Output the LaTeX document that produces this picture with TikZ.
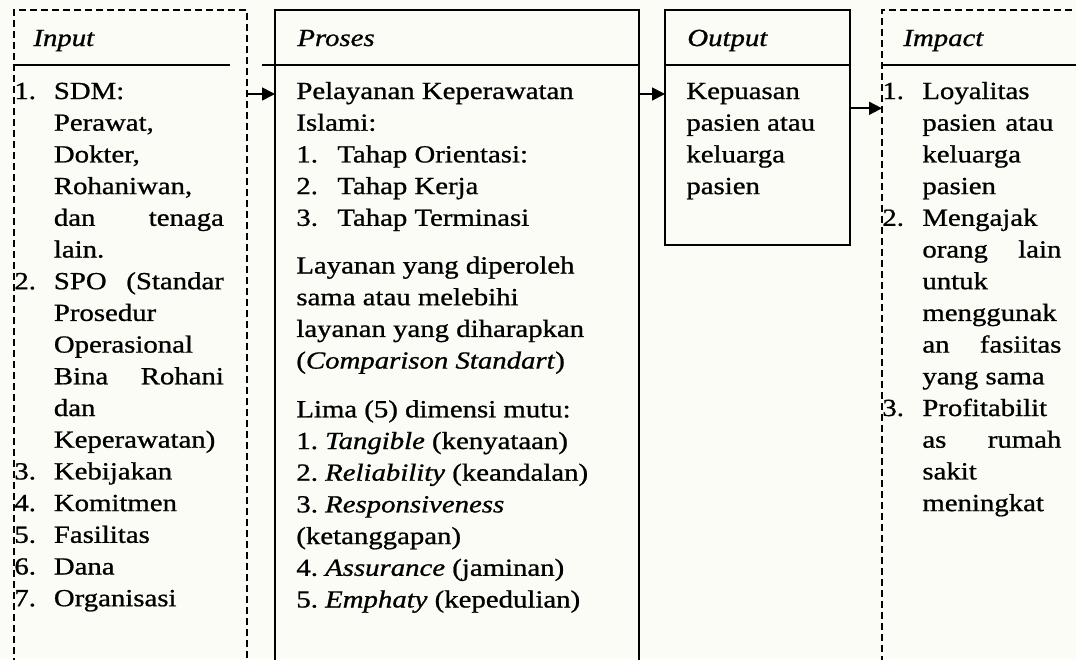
\documentclass[tikz,border=0pt]{standalone}
\usepackage{fontspec}
\usepackage{graphicx}
\setmainfont{Liberation Serif}[FakeBold=0.8]
\usetikzlibrary{arrows.meta}
\definecolor{paper}{RGB}{252,252,247}
\newcommand\bodyfont{\fontsize{12.3}{15.85}\selectfont\frenchspacing}
\newcommand\sx[1]{\scalebox{1.17}[1]{#1}}
\newcommand\col[2]{\sx{\parbox[t]{#1}{\raggedright\bodyfont #2}}}
% widths measured on the page, divided by the horizontal scale 1.17
\newlength\nwA \setlength\nwA{\dimexpr 1975pt/117\relax}
\newlength\nwB \setlength\nwB{\dimexpr 2050pt/117\relax}
\newlength\nwC \setlength\nwC{\dimexpr 2000pt/117\relax}
\newlength\jwA \setlength\jwA{\dimexpr 8500pt/117\relax}
\newlength\jwB \setlength\jwB{\dimexpr 6950pt/117\relax}
\newlength\jwC \setlength\jwC{\dimexpr 6550pt/117\relax}
\newcommand\nm[2][\nwA]{\makebox[#1][l]{#2}}
\newcommand\ind[1][\nwA]{\hspace*{#1}}
\newcommand\jl[2]{\hbox to #1{#2}}
\begin{document}
\begin{tikzpicture}[x=0.5pt,y=-0.5pt,
  box/.style={draw, line width=0.85pt, inner sep=0pt, outer sep=0pt, anchor=north west},
  dbox/.style={box, dash pattern=on 3.5pt off 2pt},
  hd/.style={font=\bodyfont\itshape, anchor=base west, inner sep=0pt},
  body/.style={anchor=base west, inner sep=0pt},
  rule/.style={line width=0.85pt},
  arr/.style={line width=0.85pt, -{Triangle[length=6.5pt,width=6.5pt]}}]
\useasboundingbox (0,0) rectangle (1076,659);
\fill[paper] (0,0) rectangle (1076,659);
\clip (0,0) rectangle (1076,659);
% boxes
\node[dbox, minimum width=116.5pt, minimum height=400pt] (input) at (14,10) {};
\node[box, minimum width=182pt, minimum height=400pt] (proses) at (275,10) {};
\node[box, minimum width=92.5pt, minimum height=117.5pt] (output) at (665,10) {};
\node[dbox, minimum width=150pt, minimum height=400pt] (impact) at (882,10) {};
% header rules
\coordinate (hr) at (0,65);
\draw[rule] (input.west |- hr) -- ([xshift=-8.5pt]input.east |- hr);
\draw[rule] ([xshift=-6.5pt]proses.west |- hr) -- (proses.east |- hr);
\draw[rule] (output.west |- hr) -- (output.east |- hr);
\draw[rule] (impact.west |- hr) -- (impact.east |- hr);
% headers
\node[hd] (inputh) at (33,46) {\sx{Input}};
\node[hd] (prosesh) at (297,46) {\sx{Proses}};
\node[hd] (outputh) at (687,46) {\sx{Output}};
\node[hd] (impacth) at (903,46) {\sx{Impact}};
% bodies
\node[body] (inputb) at (14,99) {\col{95pt}{%
\nm{1.}SDM:\\
\ind Perawat,\\
\ind Dokter,\\
\ind Rohaniwan,\\
\ind\jl{\jwA}{dan\hfill tenaga}\\
\ind lain.\\
\nm{2.}\jl{\jwA}{SPO\hfill (Standar}\\
\ind Prosedur\\
\ind Operasional\\
\ind\jl{\jwA}{Bina\hfill Rohani}\\
\ind dan\\
\ind Keperawatan)\\
\nm{3.}Kebijakan\\
\nm{4.}Komitmen\\
\nm{5.}Fasilitas\\
\nm{6.}Dana\\
\nm{7.}Organisasi}};
\node[body] (prosesb) at (296,99) {\col{145pt}{%
Pelayanan Keperawatan\\
Islami:\\
\nm[\nwB]{1.}Tahap Orientasi:\\
\nm[\nwB]{2.}Tahap Kerja\\
\nm[\nwB]{3.}Tahap Terminasi\\[8pt]
Layanan yang diperoleh\\
sama atau melebihi\\
layanan yang diharapkan\\
(\textit{Comparison Standart})\\[8.5pt]
Lima (5) dimensi mutu:\\
1. \textit{Tangible} (kenyataan)\\
2. \textit{Reliability} (keandalan)\\
3. \textit{Responsiveness}\\
(ketanggapan)\\
4. \textit{Assurance} (jaminan)\\
5. \textit{Emphaty} (kepedulian)}};
\node[body] (outputb) at (686,99) {\col{70pt}{%
Kepuasan\\
pasien atau\\
keluarga\\
pasien}};
\node[body] (impactb) at (882,99) {\col{85pt}{%
\nm[\nwC]{1.}Loyalitas\\
\ind[\nwC]\jl{\jwC}{pasien\hfill atau}\\
\ind[\nwC]keluarga\\
\ind[\nwC]pasien\\
\nm[\nwC]{2.}Mengajak\\
\ind[\nwC]\jl{\jwB}{orang\hfill lain}\\
\ind[\nwC]untuk\\
\ind[\nwC]menggunak\\
\ind[\nwC]\jl{\jwB}{an\hfill fasiitas}\\
\ind[\nwC]yang sama\\
\nm[\nwC]{3.}Profitabilit\\
\ind[\nwC]\jl{\jwB}{as\hfill rumah}\\
\ind[\nwC]sakit\\
\ind[\nwC]meningkat}};
% connectors
\coordinate (ya) at (0,94);
\coordinate (yb) at (0,108.3);
\draw[arr] (input.east |- ya) -- (proses.west |- ya);
\draw[arr] (proses.east |- ya) -- (output.west |- ya);
\draw[arr] (output.east |- yb) -- (impact.west |- yb);
\end{tikzpicture}
\end{document}
